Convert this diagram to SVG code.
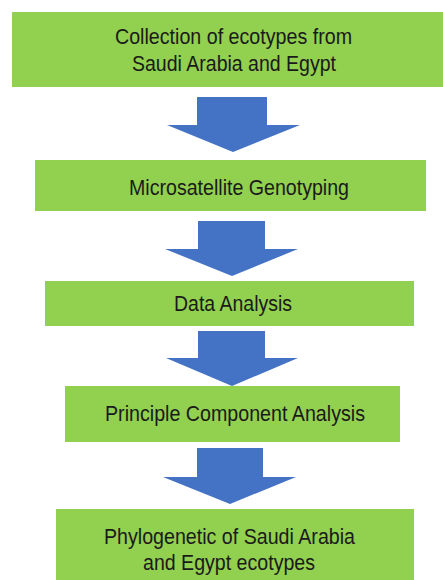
<svg xmlns="http://www.w3.org/2000/svg" width="443" height="580" viewBox="0 0 443 580">
  <style>
    .box { fill: #92D050; }
    .arrow { fill: #4472C4; }
    .label { font-family: "Liberation Sans", Arial, sans-serif; font-size: 22.5px; fill: #1a1a1a; text-anchor: middle; }
  </style>
  <rect width="443" height="580" fill="#ffffff"/>

  <!-- block arrows between steps -->
  <g id="connectors">
    <polygon class="arrow" points="197,97 267,97 267,125 300,125 233,152 167,125 197,125"/>
    <polygon class="arrow" points="198,221 265,221 265,249 298,249 232,276 165,249 198,249"/>
    <polygon class="arrow" points="198,331 265,331 265,358 298,358 232,386 166,358 198,358"/>
    <polygon class="arrow" points="197,448 263,448 263,477 296,477 230,504 163,477 197,477"/>
  </g>

  <g id="step-collection">
    <rect class="box" x="12" y="12" width="431" height="75"/>
    <text class="label" x="233.5" y="43.5" textLength="237" lengthAdjust="spacingAndGlyphs">Collection of ecotypes from</text>
    <text class="label" x="234" y="70.5" textLength="204" lengthAdjust="spacingAndGlyphs">Saudi Arabia and Egypt</text>
  </g>

  <g id="step-genotyping">
    <rect class="box" x="35" y="160" width="391" height="51"/>
    <text class="label" x="239" y="195" textLength="220" lengthAdjust="spacingAndGlyphs">Microsatellite Genotyping</text>
  </g>

  <g id="step-data-analysis">
    <rect class="box" x="45" y="281" width="369" height="45"/>
    <text class="label" x="233" y="311" textLength="118" lengthAdjust="spacingAndGlyphs">Data Analysis</text>
  </g>

  <g id="step-pca">
    <rect class="box" x="65" y="386" width="335" height="56"/>
    <text class="label" x="235" y="421" textLength="260" lengthAdjust="spacingAndGlyphs">Principle Component Analysis</text>
  </g>

  <g id="step-phylogenetic">
    <rect class="box" x="56" y="509" width="358" height="71"/>
    <text class="label" x="229.5" y="544" textLength="251" lengthAdjust="spacingAndGlyphs">Phylogenetic of Saudi Arabia</text>
    <text class="label" x="229" y="570" textLength="172" lengthAdjust="spacingAndGlyphs">and Egypt ecotypes</text>
  </g>
</svg>
